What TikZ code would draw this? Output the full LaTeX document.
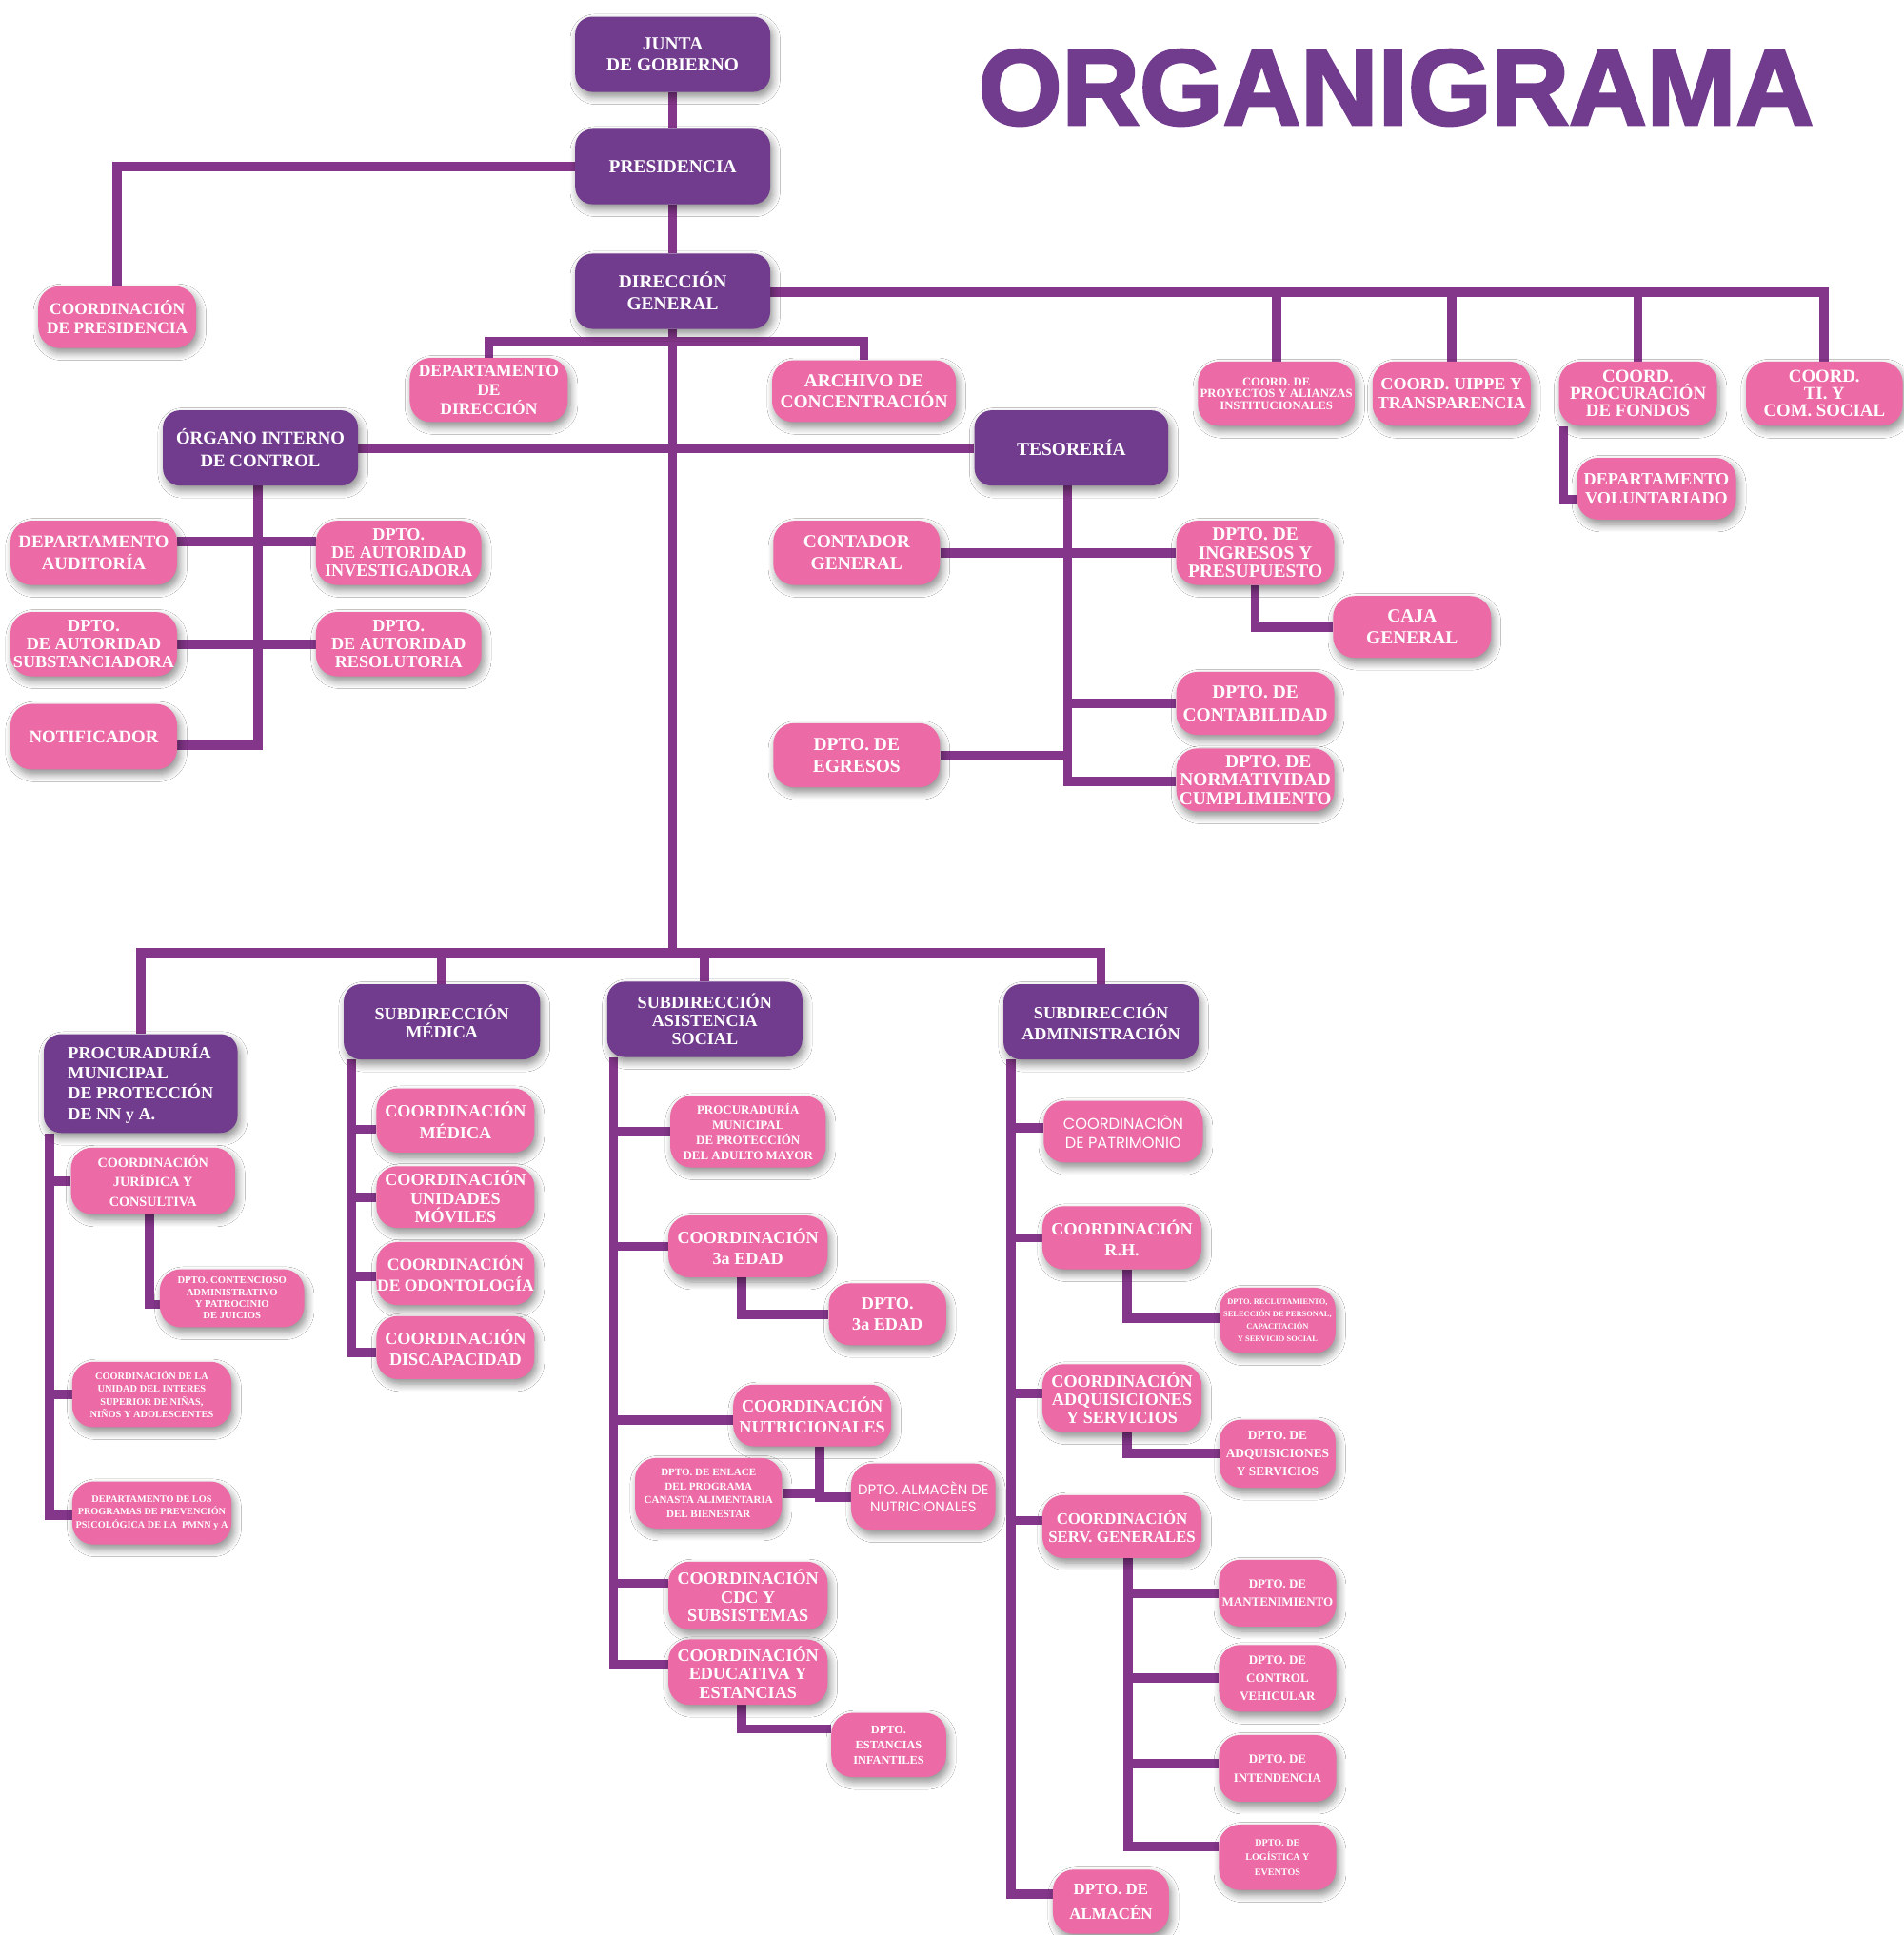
\documentclass[tikz,border=0pt]{standalone}
\usepackage{fontspec}
\setmainfont{Liberation Serif}
\newfontfamily\geofont{Poppins}
\newfontfamily\titlefont[BoldFeatures={FakeBold=2.5}]{Liberation Sans}
\usetikzlibrary{shadows.blur,backgrounds}
\definecolor{jefecolor}{HTML}{723C8E}
\definecolor{areacolor}{HTML}{EC6AA5}
\definecolor{lineacolor}{HTML}{84368A}
\newcommand\fsz[2]{\fontsize{#1}{#2}\selectfont}

\begin{document}
\begin{tikzpicture}[x=1pt, y=-1pt,
      every node/.append style={text=white, align=center, inner sep=0pt},
      sz/.style 2 args={minimum width=#1, minimum height=#2},
      nf/.style 2 args={font=\bfseries\fsz{#1}{#2}},
      gf/.style 2 args={font=\geofont\fsz{#1}{#2}},
      sombra/.style={blur shadow={shadow xshift=2pt, shadow yshift=-4pt,
        shadow blur radius=6pt, shadow blur steps=8, shadow opacity=45}}]
    \tikzstyle{jefe} = [fill=jefecolor, rounded corners=14pt, sombra]
    \tikzstyle{area} = [fill=areacolor, rounded corners=17pt, sombra]
    \tikzstyle{linea} = [draw=lineacolor, line width=7.5pt]
    \useasboundingbox (0,0) rectangle (1542,1568);
    \node (titulo) [text=jefecolor, font=\titlefont\bfseries\fsz{87}{87}] at (1131,71) {ORGANIGRAMA};
    \node (junta) [jefe, sz={158}{61}, nf={15}{17}] at (545,44) {JUNTA\\DE GOBIERNO};
    \node (presidencia) [jefe, sz={158}{61}, nf={15}{17}] at (545,135) {PRESIDENCIA};
    \node (direccion) [jefe, sz={158}{61}, nf={15}{18}] at (545,236) {DIRECCIÓN\\GENERAL};
    \node (coordpres) [area, sz={128}{50}, nf={13.4}{16}] at (95,257) {COORDINACIÓN\\DE PRESIDENCIA};
    \node (depdir) [area, sz={128}{52}, nf={13.5}{15.5}] at (396,316) {DEPARTAMENTO\\DE\\DIRECCIÓN};
    \node (archivo) [area, sz={149}{50}, nf={15}{17}] at (700,317) {ARCHIVO DE\\CONCENTRACIÓN};
    \node (proyectos) [area, sz={127}{52}, nf={9.8}{9.8}] at (1034,319) {COORD. DE\\PROYECTOS Y ALIANZAS\\INSTITUCIONALES};
    \node (uippe) [area, sz={128}{52}, nf={14}{15}] at (1176,319) {COORD. UIPPE Y\\TRANSPARENCIA};
    \node (procuracion) [area, sz={128}{52}, nf={14.5}{14}] at (1327,319) {COORD.\\PROCURACIÓN\\DE FONDOS};
    \node (ti) [area, sz={127}{52}, nf={14.5}{14}] at (1478,319) {COORD.\\TI. Y\\COM. SOCIAL};
    \node (voluntariado) [area, sz={129}{50}, nf={14}{15}] at (1342,396) {DEPARTAMENTO\\VOLUNTARIADO};
    \node (organo) [jefe, sz={158}{61}, nf={14.5}{19}] at (211,363) {ÓRGANO INTERNO\\DE CONTROL};
    \node (tesoreria) [jefe, sz={157}{61}, nf={15}{17}] at (868,363) {TESORERÍA};
    \node (auditoria) [area, sz={135}{52}, nf={14.5}{18}] at (76,448) {DEPARTAMENTO\\AUDITORÍA};
    \node (investigadora) [area, sz={134}{52}, nf={14}{14.5}] at (323,448) {DPTO.\\DE AUTORIDAD\\INVESTIGADORA};
    \node (substanciadora) [area, sz={135}{52}, nf={14}{14.5}] at (76,522) {DPTO.\\DE AUTORIDAD\\SUBSTANCIADORA};
    \node (resolutoria) [area, sz={134}{52}, nf={14}{14.5}] at (323,522) {DPTO.\\DE AUTORIDAD\\RESOLUTORIA};
    \node (notificador) [area, sz={135}{53}, nf={14.5}{18}] at (76,597) {NOTIFICADOR};
    \node (contador) [area, sz={135}{52}, nf={15}{18}] at (694,448) {CONTADOR\\GENERAL};
    \node (ingresos) [area, sz={128}{52}, nf={15}{15}] at (1017,448) {DPTO. DE\\INGRESOS Y\\PRESUPUESTO};
    \node (caja) [area, sz={128}{50}, nf={15}{18}] at (1144,508) {CAJA\\GENERAL};
    \node (contabilidad) [area, sz={128}{51}, nf={15}{18}] at (1017,570) {DPTO. DE\\CONTABILIDAD};
    \node (egresos) [area, sz={135}{52}, nf={15}{18}] at (694,612) {DPTO. DE\\EGRESOS};
    \node (normatividad) [area, sz={128}{51}, nf={15}{15}] at (1017,632) {\hspace*{1.4em}DPTO. DE\\NORMATIVIDAD\\CUMPLIMIENTO};
    \node (pmnna) [jefe, sz={157}{80}, nf={14}{16.5}, align=left] at (114,878) {PROCURADURÍA\\MUNICIPAL\\DE PROTECCIÓN\\DE NN y A.};
    \node (medica) [jefe, sz={159}{61}, nf={14}{15}] at (358,828) {SUBDIRECCIÓN\\MÉDICA};
    \node (asistencia) [jefe, sz={158}{61}, nf={14}{14.5}] at (571,826) {SUBDIRECCIÓN\\ASISTENCIA\\SOCIAL};
    \node (admin) [jefe, sz={158}{61}, nf={14}{17}] at (892,828) {SUBDIRECCIÓN\\ADMINISTRACIÓN};
    \node (juridica) [area, sz={133}{54}, nf={11}{16}] at (124,957) {COORDINACIÓN\\JURÍDICA Y\\CONSULTIVA};
    \node (contencioso) [area, sz={117}{47}, nf={8.2}{9.5}] at (188,1052) {DPTO. CONTENCIOSO\\ADMINISTRATIVO\\Y PATROCINIO\\DE JUICIOS};
    \node (unidad) [area, sz={129}{53}, nf={8}{10.3}] at (123,1130) {COORDINACIÓN DE LA\\UNIDAD DEL INTERES\\SUPERIOR DE NIÑAS,\\NIÑOS Y ADOLESCENTES};
    \node (programas) [area, sz={129}{51}, nf={7.9}{10.5}] at (123,1226) {DEPARTAMENTO DE LOS\\PROGRAMAS DE PREVENCIÓN\\PSICOLÓGICA DE LA\ \ PMNN y A};
    \node (coordmedica) [area, sz={128}{52}, nf={14}{17}] at (369,908) {COORDINACIÓN\\MÉDICA};
    \node (moviles) [area, sz={128}{50}, nf={14}{15}] at (369,970) {COORDINACIÓN\\UNIDADES\\MÓVILES};
    \node (odonto) [area, sz={128}{51}, nf={13.5}{17}] at (369,1032) {COORDINACIÓN\\DE ODONTOLOGÍA};
    \node (discap) [area, sz={128}{51}, nf={14}{17}] at (369,1092) {COORDINACIÓN\\DISCAPACIDAD};
    \node (adultomayor) [area, sz={126}{58}, nf={10}{12.5}] at (606,917) {PROCURADURÍA\\MUNICIPAL\\DE PROTECCIÓN\\DEL ADULTO MAYOR};
    \node (tercera) [area, sz={129}{50}, nf={14}{17}] at (606,1010) {COORDINACIÓN\\3a EDAD};
    \node (dptotercera) [area, sz={95}{50}, nf={14}{17}] at (719,1065) {DPTO.\\3a EDAD};
    \node (nutri) [area, sz={128}{50}, nf={14}{17}] at (658,1147) {COORDINACIÓN\\NUTRICIONALES};
    \node (enlace) [area, sz={119}{57}, nf={8.5}{11.3}] at (574,1210) {DPTO. DE ENLACE\\DEL PROGRAMA\\CANASTA ALIMENTARIA\\DEL BIENESTAR};
    \node (almacennutri) [area, sz={117}{54}, gf={11.5}{14}] at (748,1213) {DPTO. ALMACÈN DE\\NUTRICIONALES};
    \node (cdc) [area, sz={129}{55}, nf={14}{15}] at (606,1293) {COORDINACIÓN\\CDC Y\\SUBSISTEMAS};
    \node (educativa) [area, sz={129}{53}, nf={14}{15}] at (606,1355) {COORDINACIÓN\\EDUCATIVA Y\\ESTANCIAS};
    \node (estancias) [area, sz={93}{52}, nf={9.5}{12.5}] at (720,1414) {DPTO.\\ESTANCIAS\\INFANTILES};
    \node (patrimonio) [area, sz={129}{50}, gf={12.5}{15}] at (910,917) {COORDINACIÒN\\DE PATRIMONIO};
    \node (rh) [area, sz={129}{51}, nf={14}{17}] at (909,1003) {COORDINACIÓN\\R.H.};
    \node (reclutamiento) [area, sz={94}{53}, nf={6.5}{10}] at (1035,1070) {DPTO. RECLUTAMIENTO,\\SELECCIÓN DE PERSONAL,\\CAPACITACIÓN\\Y SERVICIO SOCIAL};
    \node (adquisiciones) [area, sz={129}{55}, nf={14}{14.5}] at (909,1133) {COORDINACIÓN\\ADQUISICIONES\\Y SERVICIOS};
    \node (dptoadq) [area, sz={94}{55}, nf={10.3}{14.5}] at (1035,1178) {DPTO. DE\\ADQUISICIONES\\Y SERVICIOS};
    \node (servgen) [area, sz={129}{51}, nf={13}{15}] at (909,1237) {COORDINACIÓN\\SERV. GENERALES};
    \node (mantenimiento) [area, sz={95}{54}, nf={10}{15}] at (1035,1291) {DPTO. DE\\MANTENIMIENTO};
    \node (vehicular) [area, sz={95}{54}, nf={10}{14.5}] at (1035,1360) {DPTO. DE\\CONTROL\\VEHICULAR};
    \node (intendencia) [area, sz={95}{54}, nf={10}{15.5}] at (1035,1433) {DPTO. DE\\INTENDENCIA};
    \node (logistica) [area, sz={95}{53}, nf={7.8}{12}] at (1035,1505) {DPTO. DE\\LOGÍSTICA Y\\EVENTOS};
    \node (almacen) [area, sz={94}{52}, nf={13}{20}] at (900,1541) {DPTO. DE\\ALMACÉN};
    \coordinate (rbar) at (1480,237);
    \coordinate (dirbar) at (545,277);
    \coordinate (bar) at (545,772);
    \coordinate (oicend) at (209,604);
    \coordinate (tesend) at (865,633);
    \coordinate (pend) at (40,1228);
    \coordinate (mend) at (285,1096);
    \coordinate (aend) at (497,1349);
    \coordinate (dend) at (819,1535);
    \coordinate (send) at (914,1496);
    \begin{scope}[on background layer]
      \fill[white] (0,0) rectangle (1542,1568);
      \draw[linea] (junta.south) -- (presidencia.north);
      \draw[linea] (presidencia.south) -- (direccion.north);
      \draw[linea] (presidencia.west) -| (coordpres.north);
      \draw[linea] (direccion.east |- rbar) -| (ti.north);
      \foreach \n in {proyectos, uippe, procuracion}
        \draw[linea] (\n.north) -- (\n.north |- rbar);
      \draw[linea] ([xshift=4pt]procuracion.south west) |- ([yshift=-9pt]voluntariado.west);
      \draw[linea] (depdir.north) |- (dirbar) -| (archivo.north);
      \draw[linea] (direccion.south) -- (bar);
      \draw[linea] (organo.east) -- (tesoreria.west);
      \draw[linea] (organo.south -| oicend) -- (oicend) -- (notificador.east |- oicend);
      \draw[linea] ([yshift=9pt]auditoria.east) -- ([yshift=9pt]investigadora.west);
      \draw[linea] (substanciadora.east) -- (resolutoria.west);
      \draw[linea] (tesoreria.south -| tesend) -- (tesend) -- (normatividad.west |- tesend);
      \draw[linea] (contador.east) -- (ingresos.west);
      \draw[linea] (ingresos.south) |- (caja.west);
      \draw[linea] (contabilidad.west) -- (contabilidad.west -| tesend);
      \draw[linea] (egresos.east) -- (egresos.east -| tesend);
      \draw[linea] (pmnna.north) |- (bar) -| (admin.north);
      \draw[linea] (medica.north) -- (medica.north |- bar);
      \draw[linea] (asistencia.north) -- (asistencia.north |- bar);
      \draw[linea] (pmnna.south west -| pend) -- (pend) -- (programas.west |- pend);
      \draw[linea] (juridica.west) -| (pend);
      \draw[linea] (unidad.west) -| (pend);
      \draw[linea] ([xshift=-3pt]juridica.south) |- ([yshift=-5pt]contencioso.west);
      \draw[linea] (medica.south west -| mend) -- (mend) -- (discap.west |- mend);
      \draw[linea] ([yshift=-7pt]coordmedica.west) -| (mend);
      \draw[linea] (moviles.west) -| (mend);
      \draw[linea] ([yshift=-2pt]odonto.west) -| (mend);
      \draw[linea] (asistencia.south west -| aend) -- (aend) -- ([yshift=6pt]educativa.west);
      \draw[linea] (adultomayor.west) -| (aend);
      \draw[linea] (tercera.west) -| (aend);
      \draw[linea] ([yshift=-4pt]nutri.west) -| (aend);
      \draw[linea] ([yshift=10pt]cdc.west) -| (aend);
      \draw[linea] ([xshift=-5pt]tercera.south) |- (dptotercera.west);
      \draw[linea] ([xshift=6pt]nutri.south) |- (almacennutri.west);
      \draw[linea] (enlace.east) -| ([xshift=6pt]nutri.south);
      \draw[linea] ([xshift=-5pt]educativa.south) |- ([yshift=13pt]estancias.west);
      \draw[linea] (admin.south west -| dend) -- (dend) -- (almacen.west |- dend);
      \draw[linea] ([yshift=3pt]patrimonio.west) -| (dend);
      \draw[linea] (rh.west) -| (dend);
      \draw[linea] ([yshift=4pt]adquisiciones.west) -| (dend);
      \draw[linea] ([yshift=5pt]servgen.west) -| (dend);
      \draw[linea] ([xshift=4pt]rh.south) |- ([yshift=2pt]reclutamiento.west);
      \draw[linea] ([xshift=4pt]adquisiciones.south) |- (dptoadq.west);
      \draw[linea] ([xshift=5pt]servgen.south) -- (send) -- (logistica.west |- send);
      \draw[linea] (mantenimiento.west) -| (send);
      \draw[linea] (vehicular.west) -| (send);
      \draw[linea] ([yshift=4pt]intendencia.west) -| (send);
    \end{scope}
  \end{tikzpicture}
\end{document}
